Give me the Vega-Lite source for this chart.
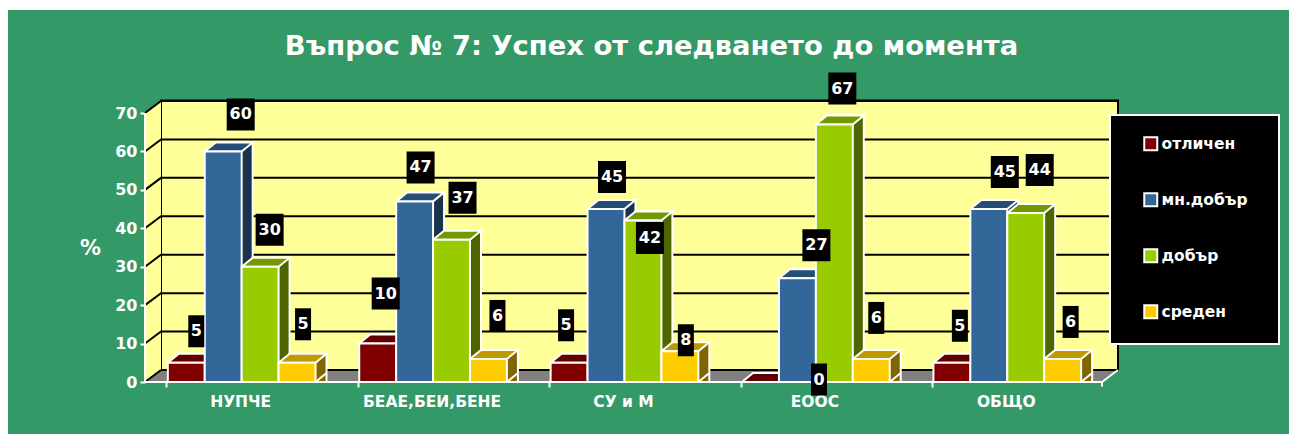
{
"$schema":"https://vega.github.io/schema/vega-lite/v6.json",
"autosize":{"type":"none"},
"padding":{"left":145,"top":113,"right":187,"bottom":52},
"width":957,"height":269,
"background":"#339966",
"title":{"text":"Въпрос № 7: Успех от следването до момента","font":"DejaVu Sans","fontWeight":"bold","fontSize":27.4,"color":"white","anchor":"middle","dx":28,"baseline":"alphabetic","offset":-55,"dy":27},
"config":{"view":{"stroke":null},"font":"DejaVu Sans","axis":{"grid":false,"labelFont":"DejaVu Sans","labelFontWeight":"bold","labelColor":"white","tickColor":"white","tickWidth":2,"domain":false,"titleColor":"white"}},
"datasets":{
"one":[{"k":"frame"}],
"ticks":[{"tick":10},{"tick":20},{"tick":30},{"tick":40},{"tick":50},{"tick":60},{"tick":70}],
"rows":[
{"id":1,"group":"НУПЧЕ","series":"отличен","value":5},{"id":2,"group":"НУПЧЕ","series":"мн.добър","value":60},{"id":3,"group":"НУПЧЕ","series":"добър","value":30},{"id":4,"group":"НУПЧЕ","series":"среден","value":5},
{"id":5,"group":"БЕАЕ,БЕИ,БЕНЕ","series":"отличен","value":10},{"id":6,"group":"БЕАЕ,БЕИ,БЕНЕ","series":"мн.добър","value":47},{"id":7,"group":"БЕАЕ,БЕИ,БЕНЕ","series":"добър","value":37},{"id":8,"group":"БЕАЕ,БЕИ,БЕНЕ","series":"среден","value":6},
{"id":9,"group":"СУ и М","series":"отличен","value":5},{"id":10,"group":"СУ и М","series":"мн.добър","value":45},{"id":11,"group":"СУ и М","series":"добър","value":42},{"id":12,"group":"СУ и М","series":"среден","value":8},
{"id":13,"group":"ЕООС","series":"отличен","value":0},{"id":14,"group":"ЕООС","series":"мн.добър","value":27},{"id":15,"group":"ЕООС","series":"добър","value":67},{"id":16,"group":"ЕООС","series":"среден","value":6},
{"id":17,"group":"ОБЩО","series":"отличен","value":5},{"id":18,"group":"ОБЩО","series":"мн.добър","value":45},{"id":19,"group":"ОБЩО","series":"добър","value":44},{"id":20,"group":"ОБЩО","series":"среден","value":6}
]},
"data":{"name":"rows"},
"resolve":{"scale":{"color":"independent","xOffset":"independent"},"axis":{"x":"independent","y":"independent"}},
"layer":[
{"data":{"name":"one"},"mark":{"type":"point","filled":true,"opacity":1,"size":4,"fill":"white","stroke":null,"shape":"M-623.5,-247.5H665.5V-237.5H-615.5V186.5H-623.5Z"},"encoding":{}},
{"data":{"name":"one"},"mark":{"type":"point","filled":true,"opacity":1,"size":4,"fill":"#808080","stroke":null,"shape":"M-478.5,134.5H478.5L494.5,122.5H-462.5Z"},"encoding":{}},
{"data":{"name":"one"},"mark":{"type":"point","filled":true,"opacity":1,"size":4,"fill":"#FFFF99","stroke":"black","strokeWidth":2,"shape":"M-462.5,-147H494.5V122.5H-462.5Z"},"encoding":{}},
{"data":{"name":"one"},"mark":{"type":"point","filled":true,"opacity":1,"size":4,"fill":"#FFFF99","stroke":null,"shape":"M-478.5,-134.5L-462.5,-147V122.5L-478.5,134.5Z"},"encoding":{}},
{"data":{"name":"ticks"},"mark":{"type":"point","filled":false,"fill":null,"opacity":1,"size":4,"stroke":"black","strokeWidth":2,"shape":"M-478.5,0L-462.5,-12H494.5"},"encoding":{"y":{"field":"tick","type":"quantitative","scale":{"domain":[0,70],"nice":false},"axis":null}}},
{"data":{"name":"one"},"mark":{"type":"point","filled":false,"fill":null,"opacity":1,"size":4,"stroke":"black","strokeWidth":2,"shape":"M-478.5,134.5L-462.5,122.5"},"encoding":{}},
{"data":{"name":"one"},"mark":{"type":"point","filled":false,"fill":null,"opacity":1,"size":4,"stroke":"white","strokeWidth":2,"shape":"M-478.5,-134.5V134.5H478.5V139M478.5,134.5L494.5,122.5"},"encoding":{}},
{"mark":{"type":"bar","yOffset":-9,"y2Offset":-9,"stroke":"white","strokeWidth":2,"opacity":1},
 "encoding":{
  "x":{"field":"group","type":"nominal","sort":null,"title":null,"scale":{"paddingInner":0.228,"paddingOuter":0.114},"axis":null},
  "xOffset":{"field":"series","type":"nominal","sort":null,"scale":{"range":[12,159.7]}},
  "y":{"field":"value","type":"quantitative","stack":null,"scale":{"domain":[0,70],"nice":false},"axis":null},
  "color":{"field":"series","type":"nominal","sort":null,"legend":null,"scale":{"range":["#400000","#1A334D","#4D6600","#806600"]}}}},
{"mark":{"type":"point","filled":true,"opacity":1,"size":4,"stroke":null,"shape":"M18.46,-11.5H28.46V-9L18.46,0Z"},
 "encoding":{
  "x":{"field":"group","type":"nominal","sort":null,"title":null,"scale":{"paddingInner":0.228,"paddingOuter":0.114},"axis":null},
  "xOffset":{"field":"series","type":"nominal","sort":null,"scale":{"range":[1,148.7]}},
  "y":{"datum":0,"type":"quantitative","scale":{"domain":[0,70],"nice":false},"axis":null},
  "color":{"field":"series","type":"nominal","sort":null,"legend":null,"scale":{"range":["#400000","#1A334D","#4D6600","#806600"]}}}},
{"mark":{"type":"point","filled":false,"fill":null,"opacity":1,"size":4,"stroke":"white","strokeWidth":2,"shape":"M18.46,0L29.46,-9"},
 "encoding":{
  "x":{"field":"group","type":"nominal","sort":null,"title":null,"scale":{"paddingInner":0.228,"paddingOuter":0.114},"axis":null},
  "xOffset":{"field":"series","type":"nominal","sort":null,"scale":{"range":[1,148.7]}},
  "y":{"datum":0,"type":"quantitative","scale":{"domain":[0,70],"nice":false},"axis":null}}},
{"mark":{"type":"point","filled":true,"opacity":1,"size":4,"stroke":"white","strokeWidth":2,"shape":"M-18.46,0H18.46L29.46,-9H-7.46Z"},
 "encoding":{
  "x":{"field":"group","type":"nominal","sort":null,"title":null,"scale":{"paddingInner":0.228,"paddingOuter":0.114},"axis":null},
  "xOffset":{"field":"series","type":"nominal","sort":null,"scale":{"range":[1,148.7]}},
  "y":{"field":"value","type":"quantitative","scale":{"domain":[0,70],"nice":false},"axis":null},
  "color":{"field":"series","type":"nominal","sort":null,"legend":null,"scale":{"range":["#600000","#264D73","#739900","#BF9900"]}}}},
{"mark":{"type":"bar","stroke":"white","strokeWidth":2,"opacity":1},
 "encoding":{
  "x":{"field":"group","type":"nominal","sort":null,"title":null,"scale":{"paddingInner":0.228,"paddingOuter":0.114},
    "axis":{"labelAngle":0,"labelFontSize":15.5,"labelPadding":7,"tickSize":5,"bandPosition":0,"labelBaseline":"top"}},
  "xOffset":{"field":"series","type":"nominal","sort":null,"scale":{"range":[1,148.7]}},
  "y":{"field":"value","type":"quantitative","stack":null,"title":"%","scale":{"domain":[0,70],"nice":false},
    "axis":{"values":[0,10,20,30,40,50,60,70],"labelFontSize":16,"labelPadding":3,"tickSize":5,"titleAngle":0,"titleFontSize":21,"titleFontWeight":"bold","titleX":-55,"titleY":135,"titleBaseline":"middle","titleAlign":"center"}},
  "color":{"field":"series","type":"nominal","sort":null,"scale":{"range":["#800000","#336699","#99CC00","#FFCC00"]},
    "legend":{"title":null,"orient":"none","legendX":998,"legendY":23,"padding":0,"zindex":1,"symbolType":"square","symbolSize":169,"symbolStrokeColor":"white","symbolStrokeWidth":2,"symbolOpacity":1,"labelColor":"white","labelFont":"DejaVu Sans","labelFontWeight":"bold","labelFontSize":15.5,"labelOffset":3,"rowPadding":34}}}},
{"data":{"name":"one"},"mark":{"type":"point","filled":true,"opacity":1,"size":4,"fill":"black","stroke":"white","strokeWidth":2,"shape":"M486.5,-132.5H655.5V96.5H486.5Z"},"encoding":{}},
{"encoding":{
  "x":{"field":"group","type":"nominal","sort":null,"title":null,"scale":{"paddingInner":0.228,"paddingOuter":0.114},"axis":null},
  "xOffset":{"field":"series","type":"nominal","sort":null,"scale":{"range":[1,148.7]}},
  "y":{"field":"value","type":"quantitative","stack":null,"scale":{"domain":[0,70],"nice":false},"axis":null},
  "text":{"field":"value","type":"quantitative"}},
 "layer":[
 {"transform":[{"filter":"datum.id==1"}],"layer":[{"mark":{"type":"point","filled":true,"fill":"black","stroke":null,"opacity":1,"size":4,"shape":"M2,-47.5H18V-15.5H2Z"}},{"mark":{"type":"text","dx":10,"dy":-31.5,"color":"white","fontWeight":"bold","fontSize":16,"baseline":"middle"}}]},
 {"transform":[{"filter":"datum.id==2"}],"layer":[{"mark":{"type":"point","filled":true,"fill":"black","stroke":null,"opacity":1,"size":4,"shape":"M3.5,-53H31.5V-21H3.5Z"}},{"mark":{"type":"text","dx":17.5,"dy":-37,"color":"white","fontWeight":"bold","fontSize":16,"baseline":"middle"}}]},
 {"transform":[{"filter":"datum.id==3"}],"layer":[{"mark":{"type":"point","filled":true,"fill":"black","stroke":null,"opacity":1,"size":4,"shape":"M-4.5,-53H23.5V-21H-4.5Z"}},{"mark":{"type":"text","dx":9.5,"dy":-37,"color":"white","fontWeight":"bold","fontSize":16,"baseline":"middle"}}]},
 {"transform":[{"filter":"datum.id==4"}],"layer":[{"mark":{"type":"point","filled":true,"fill":"black","stroke":null,"opacity":1,"size":4,"shape":"M-2,-54.5H14V-22.5H-2Z"}},{"mark":{"type":"text","dx":6,"dy":-38.5,"color":"white","fontWeight":"bold","fontSize":16,"baseline":"middle"}}]},
 {"transform":[{"filter":"datum.id==5"}],"layer":[{"mark":{"type":"point","filled":true,"fill":"black","stroke":null,"opacity":1,"size":4,"shape":"M-6,-66H22V-34H-6Z"}},{"mark":{"type":"text","dx":8,"dy":-50,"color":"white","fontWeight":"bold","fontSize":16,"baseline":"middle"}}]},
 {"transform":[{"filter":"datum.id==6"}],"layer":[{"mark":{"type":"point","filled":true,"fill":"black","stroke":null,"opacity":1,"size":4,"shape":"M-8,-50H20V-18H-8Z"}},{"mark":{"type":"text","dx":6,"dy":-34,"color":"white","fontWeight":"bold","fontSize":16,"baseline":"middle"}}]},
 {"transform":[{"filter":"datum.id==7"}],"layer":[{"mark":{"type":"point","filled":true,"fill":"black","stroke":null,"opacity":1,"size":4,"shape":"M-3,-58H25V-26H-3Z"}},{"mark":{"type":"text","dx":11,"dy":-42,"color":"white","fontWeight":"bold","fontSize":16,"baseline":"middle"}}]},
 {"transform":[{"filter":"datum.id==8"}],"layer":[{"mark":{"type":"point","filled":true,"fill":"black","stroke":null,"opacity":1,"size":4,"shape":"M1,-59H17V-27H1Z"}},{"mark":{"type":"text","dx":9,"dy":-43,"color":"white","fontWeight":"bold","fontSize":16,"baseline":"middle"}}]},
 {"transform":[{"filter":"datum.id==9"}],"layer":[{"mark":{"type":"point","filled":true,"fill":"black","stroke":null,"opacity":1,"size":4,"shape":"M-11,-53.5H5V-21.5H-11Z"}},{"mark":{"type":"text","dx":-3,"dy":-37.5,"color":"white","fontWeight":"bold","fontSize":16,"baseline":"middle"}}]},
 {"transform":[{"filter":"datum.id==10"}],"layer":[{"mark":{"type":"point","filled":true,"fill":"black","stroke":null,"opacity":1,"size":4,"shape":"M-8,-48H20V-16H-8Z"}},{"mark":{"type":"text","dx":6,"dy":-32,"color":"white","fontWeight":"bold","fontSize":16,"baseline":"middle"}}]},
 {"transform":[{"filter":"datum.id==11"}],"layer":[{"mark":{"type":"point","filled":true,"fill":"black","stroke":null,"opacity":1,"size":4,"shape":"M-7,1.5H21V33.5H-7Z"}},{"mark":{"type":"text","dx":7,"dy":17.5,"color":"white","fontWeight":"bold","fontSize":16,"baseline":"middle"}}]},
 {"transform":[{"filter":"datum.id==12"}],"layer":[{"mark":{"type":"point","filled":true,"fill":"black","stroke":null,"opacity":1,"size":4,"shape":"M-2,-27H14V5H-2Z"}},{"mark":{"type":"text","dx":6,"dy":-11,"color":"white","fontWeight":"bold","fontSize":16,"baseline":"middle"}}]},
 {"transform":[{"filter":"datum.id==13"}],"layer":[{"mark":{"type":"point","filled":true,"fill":"black","stroke":null,"opacity":1,"size":4,"shape":"M50.5,-18.5H66.5V13.5H50.5Z"}},{"mark":{"type":"text","dx":58.5,"dy":-2.5,"color":"white","fontWeight":"bold","fontSize":16,"baseline":"middle"}}]},
 {"transform":[{"filter":"datum.id==14"}],"layer":[{"mark":{"type":"point","filled":true,"fill":"black","stroke":null,"opacity":1,"size":4,"shape":"M5,-49H33V-17H5Z"}},{"mark":{"type":"text","dx":19,"dy":-33,"color":"white","fontWeight":"bold","fontSize":16,"baseline":"middle"}}]},
 {"transform":[{"filter":"datum.id==15"}],"layer":[{"mark":{"type":"point","filled":true,"fill":"black","stroke":null,"opacity":1,"size":4,"shape":"M-6,-52H22V-20H-6Z"}},{"mark":{"type":"text","dx":8,"dy":-36,"color":"white","fontWeight":"bold","fontSize":16,"baseline":"middle"}}]},
 {"transform":[{"filter":"datum.id==16"}],"layer":[{"mark":{"type":"point","filled":true,"fill":"black","stroke":null,"opacity":1,"size":4,"shape":"M-3,-57H13V-25H-3Z"}},{"mark":{"type":"text","dx":5,"dy":-41,"color":"white","fontWeight":"bold","fontSize":16,"baseline":"middle"}}]},
 {"transform":[{"filter":"datum.id==17"}],"layer":[{"mark":{"type":"point","filled":true,"fill":"black","stroke":null,"opacity":1,"size":4,"shape":"M0,-53H16V-21H0Z"}},{"mark":{"type":"text","dx":8,"dy":-37,"color":"white","fontWeight":"bold","fontSize":16,"baseline":"middle"}}]},
 {"transform":[{"filter":"datum.id==18"}],"layer":[{"mark":{"type":"point","filled":true,"fill":"black","stroke":null,"opacity":1,"size":4,"shape":"M2,-53H30V-21H2Z"}},{"mark":{"type":"text","dx":16,"dy":-37,"color":"white","fontWeight":"bold","fontSize":16,"baseline":"middle"}}]},
 {"transform":[{"filter":"datum.id==19"}],"layer":[{"mark":{"type":"point","filled":true,"fill":"black","stroke":null,"opacity":1,"size":4,"shape":"M0,-59H28V-27H0Z"}},{"mark":{"type":"text","dx":14,"dy":-43,"color":"white","fontWeight":"bold","fontSize":16,"baseline":"middle"}}]},
 {"transform":[{"filter":"datum.id==20"}],"layer":[{"mark":{"type":"point","filled":true,"fill":"black","stroke":null,"opacity":1,"size":4,"shape":"M0,-53H16V-21H0Z"}},{"mark":{"type":"text","dx":8,"dy":-37,"color":"white","fontWeight":"bold","fontSize":16,"baseline":"middle"}}]}
 ]}
]}
